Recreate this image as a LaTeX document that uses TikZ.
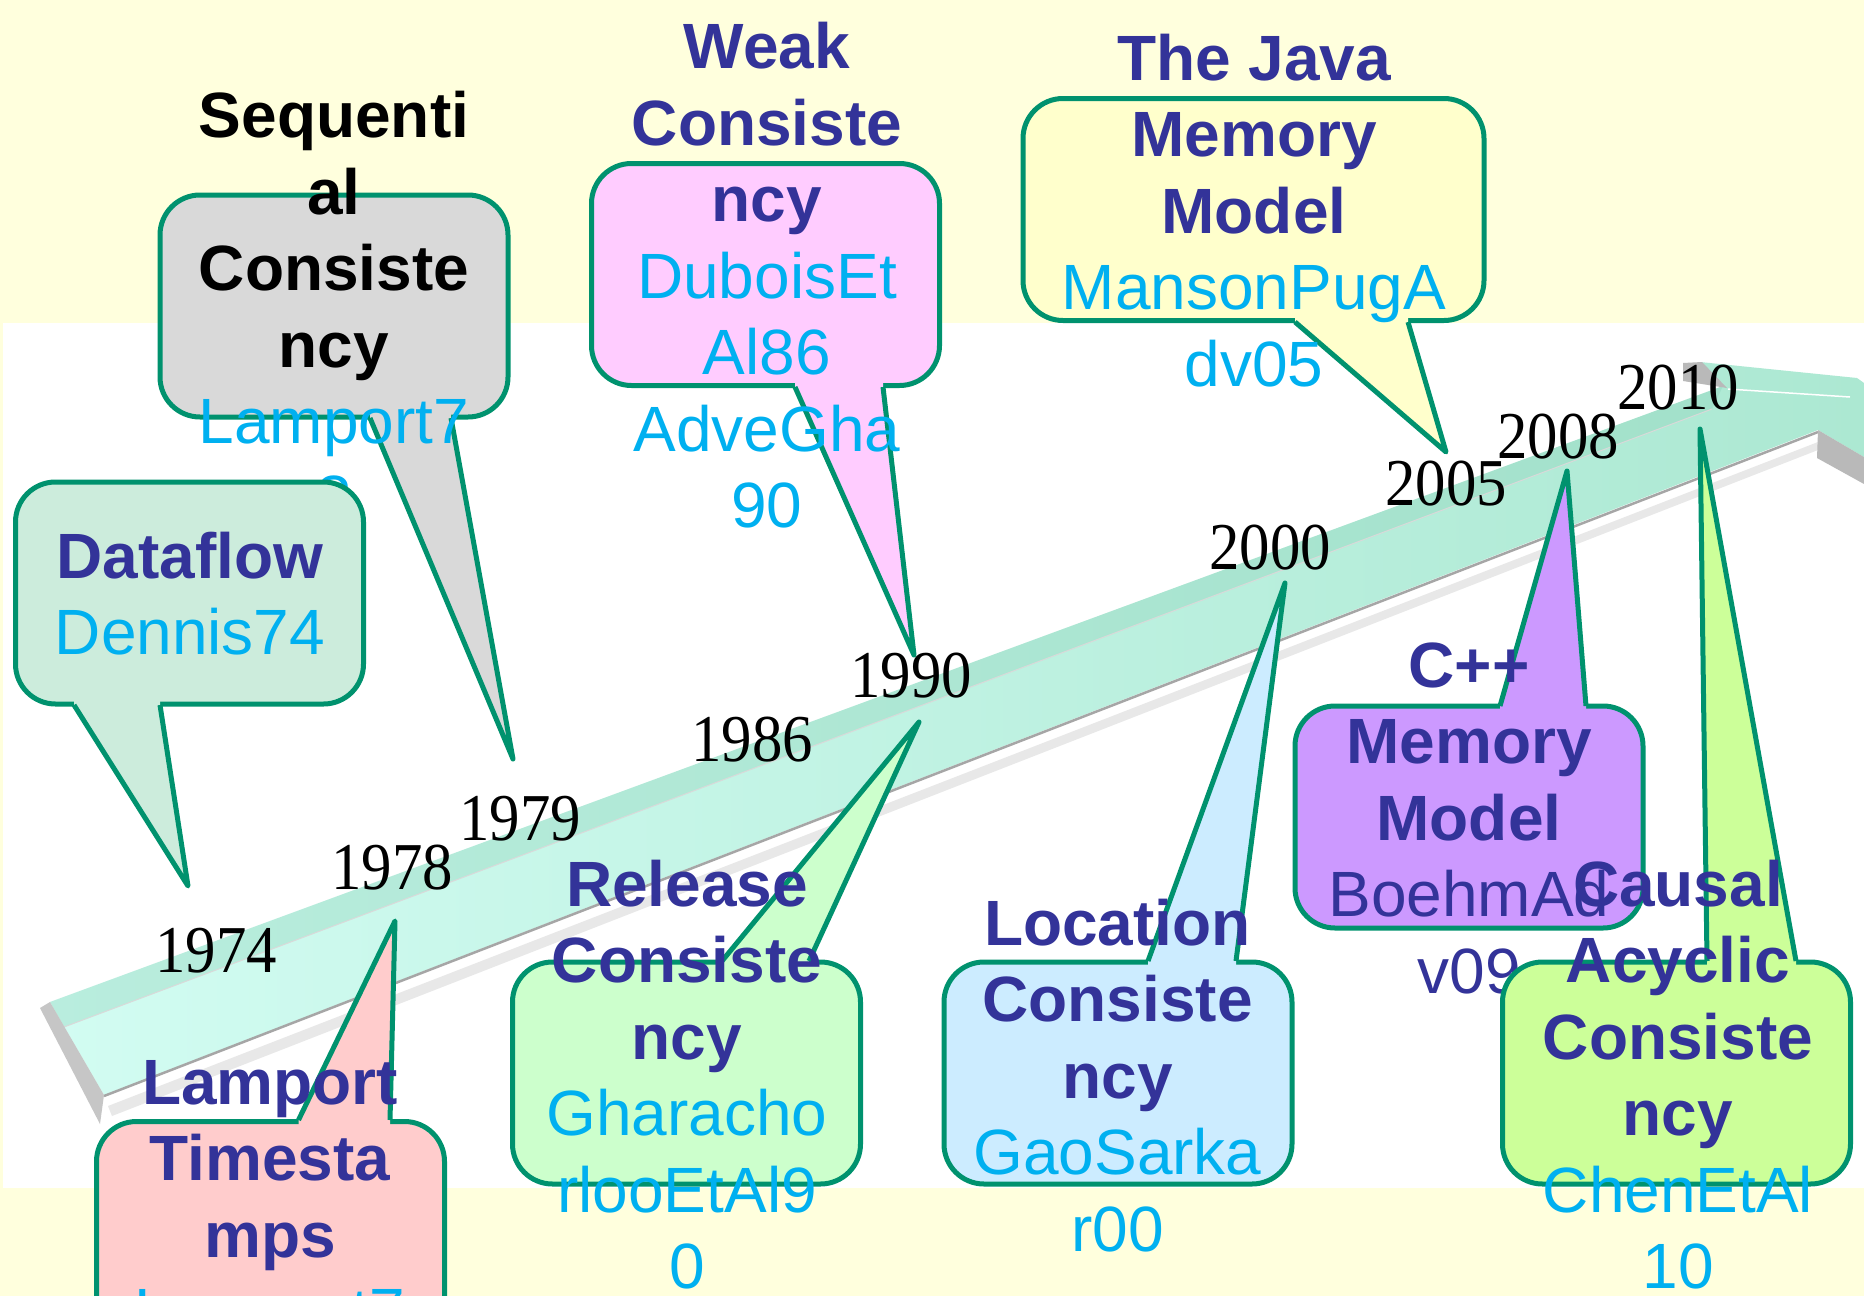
\documentclass[tikz,border=0pt]{standalone}
\usepackage{fontspec}
\setmainfont{Liberation Sans}
\newfontfamily\yearfont{Liberation Serif}
\usetikzlibrary{calc}

\definecolor{bgyel}{RGB}{255,255,221}
\definecolor{outl}{RGB}{0,146,110}
\definecolor{tind}{RGB}{51,51,153}
\definecolor{tcyan}{RGB}{0,176,240}
\definecolor{fdata}{RGB}{204,236,220}
\definecolor{fseq}{RGB}{217,217,217}
\definecolor{fweak}{RGB}{255,204,255}
\definecolor{fjava}{RGB}{255,255,204}
\definecolor{flamp}{RGB}{255,204,204}
\definecolor{frel}{RGB}{204,255,204}
\definecolor{floc}{RGB}{204,236,255}
\definecolor{fcpp}{RGB}{204,153,255}
\definecolor{fcaus}{RGB}{204,255,153}
\definecolor{barL}{RGB}{210,252,242}
\definecolor{barR}{RGB}{172,232,210}
\definecolor{barTop}{RGB}{140,210,185}

\newcommand\ttl[1]{{\bfseries\color{tind}\strut #1}}
\newcommand\ttk[1]{{\bfseries\color{black}\strut #1}}
\newcommand\cit[1]{{\color{tcyan}\strut #1}}
\newcommand\cid[1]{{\color{tind}\strut #1}}
\newcommand\yr[1]{\scalebox{0.98}[1.08]{#1}}
\newcommand\calltail[5]{%
  \fill[#1] ($(#2)+(0,#5)$) -- (#2) -- (#3) -- (#4) -- ($(#4)+(0,#5)$) -- cycle;
  \draw[tailline] (#2) -- (#3) -- (#4);
}

\tikzset{
  bubble/.style={draw=outl, line width=5pt, rounded corners=40pt, inner sep=0pt,
    minimum width=348pt, minimum height=222pt},
  tailline/.style={draw=outl, line width=5pt, line join=round},
  btext/.style={align=center, inner sep=0pt, font=\fontsize{64}{76.5}\selectfont},
  yearlbl/.style={inner sep=0pt, font=\yearfont\fontsize{62}{70}\selectfont},
}

\begin{document}
\begin{tikzpicture}[x=1pt,y=-1pt]
\useasboundingbox (0,0) rectangle (1864,1296);
\clip (0,0) rectangle (1864,1296);

% background
\fill[bgyel] (0,0) rectangle (1864,1296);
\fill[white] (3,323) rectangle (1864,1188);

% ---------- timeline arrow ----------
\fill[gray!18] (108,1106) -- (1818,442) -- (1818,450) -- (112,1116) -- cycle;
\shade[left color=barL, right color=barR]
  (50,1002) -- (1723,386) -- (1700,362) -- (1857,378) -- (1864,383)
  -- (1864,457) -- (1818,430) -- (104,1095) -- cycle;
\fill[barTop, opacity=0.35] (50,1002) -- (1723,386) -- (1712,409) -- (64,1027) -- cycle;
\draw[white!70!gray, line width=1pt] (64,1027) -- (1712,409);
\draw[white, line width=1.5pt] (1728,389) -- (1850,397);
\draw[gray!70, line width=2.5pt] (104,1096) -- (1818,432);
\fill[gray!45] (40,1008) -- (50,1002) -- (104,1095) -- (100,1124) -- cycle;
\fill[gray!55] (1683,363) -- (1702,362) -- (1727,388) -- (1683,381) -- cycle;
\fill[gray!55] (1818,430) -- (1864,457) -- (1864,484) -- (1817,458) -- cycle;

% ---------- years ----------
\node[yearlbl] (y1974) at (216,951) {\yr{1974}};
\node[yearlbl] (y1978) at (392,868) {\yr{1978}};
\node[yearlbl] (y1979) at (520,819) {\yr{1979}};
\node[yearlbl] (y1986) at (752,740) {\yr{1986}};
\node[yearlbl] (y1990) at (911,676) {\yr{1990}};
\node[yearlbl] (y2000) at (1270,548) {\yr{2000}};
\node[yearlbl] (y2005) at (1446,484) {\yr{2005}};
\node[yearlbl] (y2008) at (1558,437) {\yr{2008}};
\node[yearlbl] (y2010) at (1678,388) {\yr{2010}};

% ---------- Sequential Consistency ----------
\node[bubble, fill=fseq] (seqbox) at (334,306) {};
\coordinate (seqA) at (370,418);
\coordinate (seqT) at (513,759);
\coordinate (seqB) at (451,418);
\calltail{fseq}{seqA}{seqT}{seqB}{-9}
\node[btext] (seqtxt) at (334,313.5)
  {\ttk{Sequenti}\\\ttk{al}\\\ttk{Consiste}\\\ttk{ncy}\\\cit{Lamport7}\\\cit{8}};

% ---------- Dataflow ----------
\node[bubble, fill=fdata] (databox) at (189.5,593) {};
\coordinate (dataA) at (74,705);
\coordinate (dataT) at (188,886);
\coordinate (dataB) at (160,705);
\calltail{fdata}{dataA}{dataT}{dataB}{-9}
\node[btext] (datatxt) at (190,601) {\ttl{Dataflow}\\\cit{Dennis74}};

% ---------- Weak Consistency ----------
\node[bubble, fill=fweak] (weakbox) at (765.5,274.5) {};
\coordinate (weakA) at (795,387);
\coordinate (weakT) at (914,655);
\coordinate (weakB) at (883,387);
\calltail{fweak}{weakA}{weakT}{weakB}{-9}
\node[btext] (weaktxt) at (767,283)
  {\ttl{Weak}\\\ttl{Consiste}\\\ttl{ncy}\\\cit{DuboisEt}\\\cit{Al86}\\\cit{AdveGha}\\\cit{90}};

% ---------- Java Memory Model ----------
\node[bubble, fill=fjava, minimum width=461pt] (javabox) at (1253.5,209.5) {};
\coordinate (javaA) at (1295,322);
\coordinate (javaT) at (1446,452);
\coordinate (javaB) at (1408,322);
\calltail{fjava}{javaA}{javaT}{javaB}{-9}
\node[btext] (javatxt) at (1254,218)
  {\ttl{The Java}\\\ttl{Memory}\\\ttl{Model}\\\cit{MansonPugA}\\\cit{dv05}};

% ---------- Lamport Timestamps ----------
\node[bubble, fill=flamp] (lampbox) at (270.5,1232.5) {};
\coordinate (lampA) at (298.5,1120);
\coordinate (lampT) at (395,921);
\coordinate (lampB) at (390,1120);
\calltail{flamp}{lampA}{lampT}{lampB}{9}
\node[btext] (lamptxt) at (270,1242)
  {\ttl{Lamport}\\\ttl{Timesta}\\\ttl{mps}\\\cit{Lamport7}\\\cit{8}};

% ---------- Release Consistency ----------
\node[bubble, fill=frel] (relbox) at (686.5,1073) {};
\coordinate (relA) at (722,961);
\coordinate (relT) at (919,722);
\coordinate (relB) at (809,961);
\calltail{frel}{relA}{relT}{relB}{9}
\node[btext] (reltxt) at (687,1082)
  {\ttl{Release}\\\ttl{Consiste}\\\ttl{ncy}\\\cit{Gharacho}\\\cit{rlooEtAl9}\\\cit{0}};

% ---------- Location Consistency ----------
\node[bubble, fill=floc] (locbox) at (1118,1073) {};
\coordinate (locA) at (1148,961);
\coordinate (locT) at (1285,583);
\coordinate (locB) at (1236,961);
\calltail{floc}{locA}{locT}{locB}{9}
\node[btext] (loctxt) at (1117.5,1083)
  {\ttl{Location}\\\ttl{Consiste}\\\ttl{ncy}\\\cit{GaoSarka}\\\cit{r00}};

% ---------- C++ Memory Model ----------
\node[bubble, fill=fcpp] (cppbox) at (1469,817) {};
\coordinate (cppA) at (1500,706);
\coordinate (cppT) at (1567,471);
\coordinate (cppB) at (1586,706);
\calltail{fcpp}{cppA}{cppT}{cppB}{9}
\node[btext] (cpptxt) at (1469,825)
  {\ttl{C++}\\\ttl{Memory}\\\ttl{Model}\\\cid{BoehmAd}\\\cid{v09}};

% ---------- Causal Acyclic Consistency ----------
\node[bubble, fill=fcaus] (causbox) at (1676.5,1073) {};
\coordinate (causA) at (1707,961);
\coordinate (causT) at (1700,429);
\coordinate (causB) at (1796,961);
\calltail{fcaus}{causA}{causT}{causB}{9}
\node[btext] (caustxt) at (1678,1082)
  {\ttl{Causal}\\\ttl{Acyclic}\\\ttl{Consiste}\\\ttl{ncy}\\\cit{ChenEtAl}\\\cit{10}};

\end{tikzpicture}
\end{document}
